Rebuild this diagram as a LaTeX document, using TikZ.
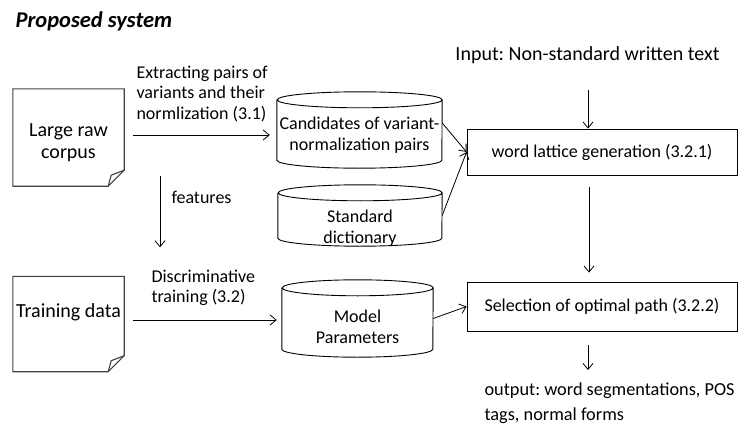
\documentclass[tikz,border=0pt]{standalone}
\usepackage{fontspec}
\setmainfont{Carlito}
\usetikzlibrary{arrows.meta}

\begin{document}
\frenchspacing
\begin{tikzpicture}[x=1pt,y=-1pt,
  arr/.style={-{Straight Barb[length=6pt,width=10pt]},line width=0.8pt},
  doc/.style={draw=black!75,line width=1.1pt},
  docbox/.style={inner sep=0pt,minimum width=111pt},
  body/.style={inner sep=0pt},
  cyl/.style={draw,line width=0.9pt},
  boxnode/.style={draw,line width=0.9pt,inner sep=0pt,minimum width=270pt},
  big/.style={font=\fontsize{20}{22}\selectfont},
  small/.style={font=\fontsize{18}{20.5}\selectfont}]
\useasboundingbox (0,0) rectangle (739,428);

\node [anchor=base west,font=\fontsize{22.5}{26}\selectfont\bfseries\itshape] (title) at (12,28) {Proposed system};

% documents
\node [docbox,minimum height=97pt] (corpus) at (68.5,137.5) {};
\node [big,align=center] (corpustxt) at (68.5,143) {Large raw\\corpus};
\draw [doc] (corpus.north west) -- (corpus.north east) -- ([yshift=16]corpus.south east) -- ([xshift=-16]corpus.south east) -- (corpus.south west) -- cycle;
\draw [doc] ([xshift=-16]corpus.south east) -- ([xshift=-13,yshift=11]corpus.south east) -- ([yshift=16]corpus.south east);

\node [docbox,minimum height=95pt] (train) at (68.5,324) {};
\node [big,anchor=base] (traintxt) at (68.5,317) {Training data};
\draw [doc] (train.north west) -- (train.north east) -- ([yshift=16]train.south east) -- ([xshift=-16]train.south east) -- (train.south west) -- cycle;
\draw [doc] ([xshift=-16]train.south east) -- ([xshift=-13,yshift=11]train.south east) -- ([yshift=16]train.south east);

% databases
\node [body,minimum width=165pt,minimum height=60pt] (cand) at (359.5,130) {};
\draw [cyl] (cand.north west) -- (cand.south west) arc [start angle=180,end angle=360,x radius=82.5pt,y radius=8pt] -- (cand.north east) arc [start angle=0,end angle=360,x radius=82.5pt,y radius=8pt];
\node [small,align=center] (candtxt) at (359.5,135) {Candidates of variant-\\normalization pairs};

\node [body,minimum width=164pt,minimum height=45pt] (dict) at (360,215.5) {};
\draw [cyl] (dict.north west) -- (dict.south west) arc [start angle=180,end angle=360,x radius=82pt,y radius=8pt] -- (dict.north east) arc [start angle=0,end angle=360,x radius=82pt,y radius=8pt];
\node [small,align=center] (dicttxt) at (360,228) {Standard\\dictionary};

\node [body,minimum width=151pt,minimum height=61pt] (model) at (357.5,318.5) {};
\draw [cyl] (model.north west) -- (model.south west) arc [start angle=180,end angle=360,x radius=75.5pt,y radius=8pt] -- (model.north east) arc [start angle=0,end angle=360,x radius=75.5pt,y radius=8pt];
\node [small,align=center] (modeltxt) at (357.5,327) {Model\\Parameters};

% processing steps
\node [boxnode,minimum height=46pt,small] (lattice) at (602,152) {word lattice generation (3.2.1)};
\node [boxnode,minimum height=49pt,small] (select) at (602,306.5) {Selection of optimal path (3.2.2)};

\node [big,anchor=base] (input) at (587.5,60) {Input: Non-standard written text};
\node [anchor=base west,align=left,font=\fontsize{18.3}{25}\selectfont] (output) at (481,420) {output: word segmentations, POS\\tags, normal forms};

% labels
\node [small,anchor=base west,align=left] (extract) at (133,119) {Extracting pairs of\\variants and their\\normlization (3.1)};
\node [small,anchor=base west] (feat) at (168,203) {features};
\node [small,anchor=base west,align=left] (disc) at (148,302.5) {Discriminative\\training (3.2)};

% arrows
\coordinate (ex) at (133,135);
\draw [arr,shorten >=7pt] (ex) -- (ex -| cand.west);
\coordinate (ft) at (160,176);
\draw [arr,shorten >=29pt] (ft) -- (ft |- train.north);
\coordinate (tr) at (133,320);
\draw [arr,shorten >=5pt] (tr) -- (tr -| model.west);
\draw [arr] ([yshift=7]cand.east) -- (lattice.west);
\draw [arr] (dict.east) -- (lattice.west);
\draw [arr] (model.east) -- (select.west);
\coordinate (inp) at (588,90);
\draw [arr] (inp) -- (inp |- lattice.north);
\draw [arr,shorten <=12pt,shorten >=9pt] ([xshift=-13]lattice.south) -- ([xshift=-13]select.north);
\coordinate (outp) at (588,370);
\draw [arr,shorten <=14pt] ([xshift=-14]select.south) -- (outp);

\end{tikzpicture}
\end{document}
